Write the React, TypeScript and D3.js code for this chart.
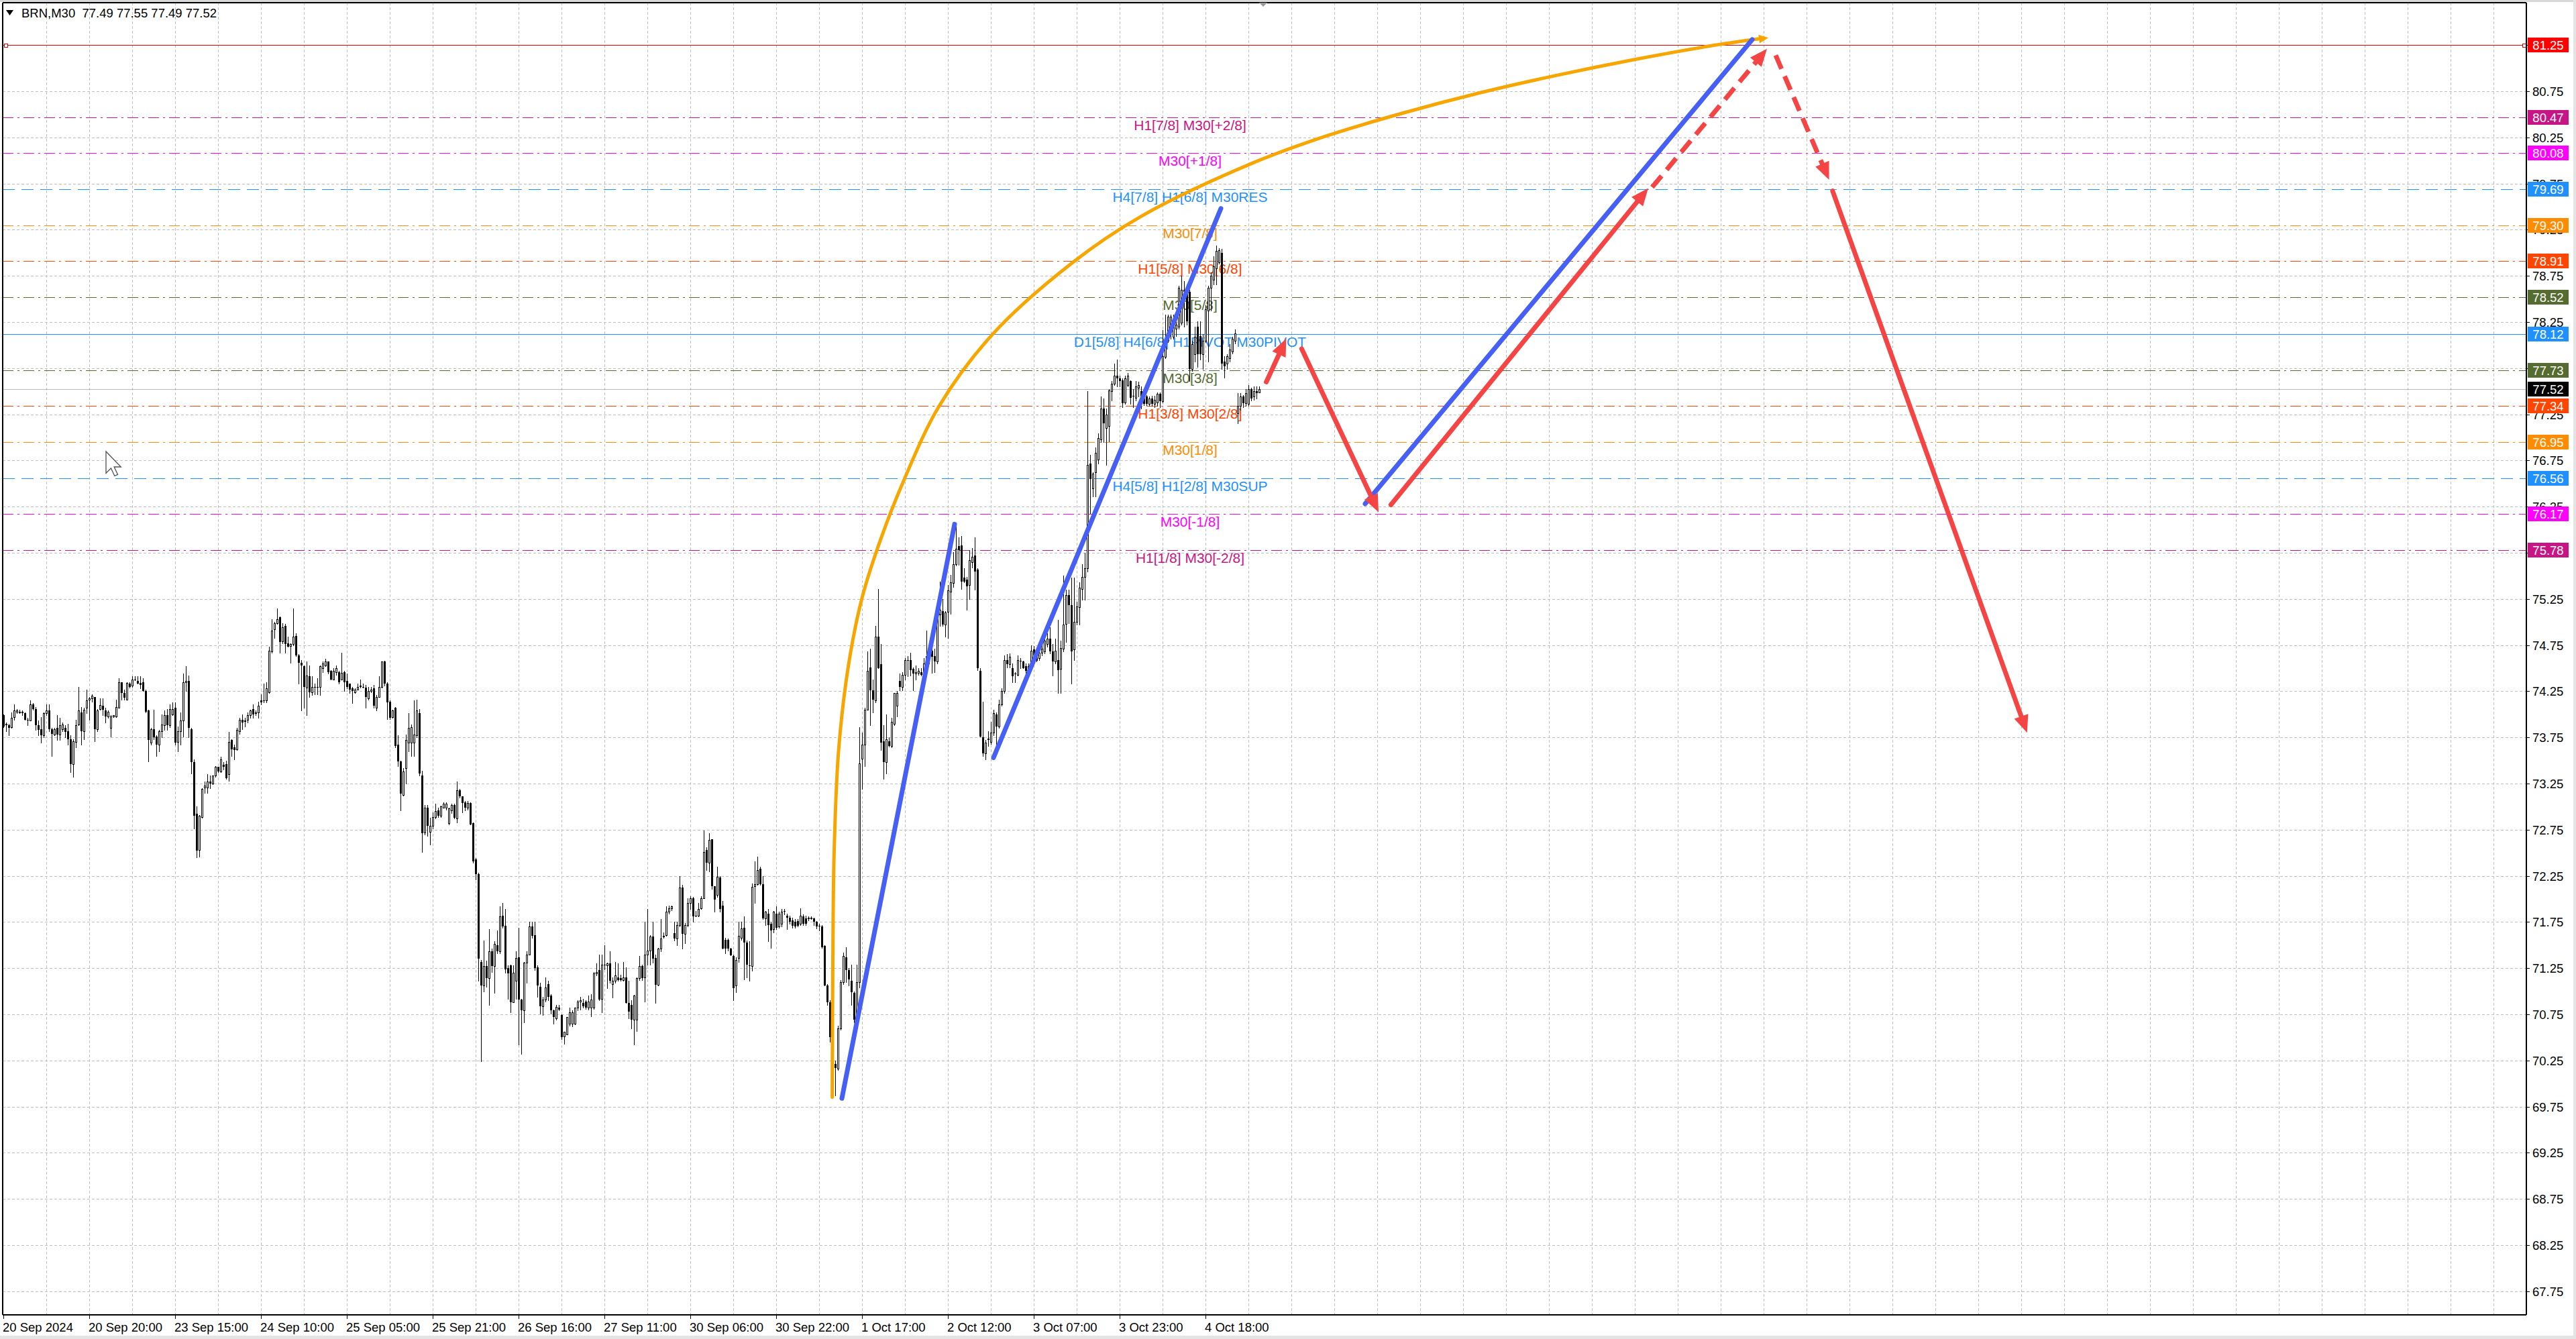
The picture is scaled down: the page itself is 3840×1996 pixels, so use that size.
import React from "react"
import * as d3 from "d3"

// BRN M30 candles, one array per trading session: [open, high, low, close]
type Bar = [number, number, number, number]

const sep20: Bar[] = [
  [73.99, 74.0, 73.86, 73.87], [73.89, 73.91, 73.82, 73.9], [73.88, 73.9, 73.77, 73.85], [73.86, 74.02, 73.85, 73.96],
  [73.97, 74.11, 73.94, 74.04], [74.03, 74.06, 74.01, 74.04], [74.03, 74.05, 74.01, 74.01], [74.03, 74.04, 73.99, 74.01],
  [74.01, 74.02, 73.94, 73.94], [73.94, 73.96, 73.88, 73.93], [73.93, 74.15, 73.93, 74.11], [74.11, 74.12, 74.05, 74.06],
  [74.06, 74.08, 73.83, 73.88], [73.88, 73.93, 73.77, 73.83], [73.84, 73.97, 73.69, 73.77], [73.77, 74.02, 73.75, 74.01],
  [74.01, 74.11, 73.99, 74.04], [74.04, 74.11, 73.82, 73.84], [73.84, 73.85, 73.55, 73.79], [73.78, 73.85, 73.77, 73.84],
  [73.85, 73.99, 73.72, 73.78], [73.78, 73.96, 73.72, 73.88], [73.84, 73.91, 73.82, 73.89], [73.85, 73.88, 73.75, 73.81],
  [73.82, 73.9, 73.67, 73.73], [73.73, 73.77, 73.37, 73.46], [73.46, 73.73, 73.32, 73.71], [73.7, 73.94, 73.64, 73.88],
  [73.89, 74.3, 73.88, 74.04], [74.02, 74.08, 73.67, 73.82], [73.82, 74.07, 73.73, 74.05], [74.07, 74.27, 74.01, 74.15],
  [74.16, 74.19, 73.94, 74.17], [74.17, 74.22, 74.14, 74.2], [74.19, 74.19, 73.71, 73.84], [73.84, 74.06, 73.82, 74.04],
  [74.06, 74.17, 74.05, 74.1], [74.09, 74.17, 73.99, 74.05],
]
const sep23: Bar[] = [
  [74.04, 74.07, 73.91, 73.98], [73.98, 74.04, 73.96, 74.03], [73.85, 73.99, 73.76, 73.98], [73.98, 73.99, 73.97, 73.99],
  [73.98, 74.16, 73.97, 74.08], [74.07, 74.39, 74.07, 74.35], [74.35, 74.35, 74.16, 74.23], [74.23, 74.27, 74.16, 74.18],
  [74.16, 74.35, 74.16, 74.34], [74.33, 74.35, 74.29, 74.3], [74.31, 74.41, 74.3, 74.38], [74.38, 74.41, 74.37, 74.38],
  [74.36, 74.41, 74.33, 74.33], [74.34, 74.41, 74.28, 74.32], [74.35, 74.39, 74.25, 74.25], [74.25, 74.27, 74.02, 74.03],
  [74.04, 74.05, 73.49, 73.72], [73.69, 73.85, 73.67, 73.84], [73.84, 74.05, 73.73, 73.75], [73.76, 73.77, 73.55, 73.67],
  [73.67, 73.83, 73.6, 73.82], [73.82, 74.0, 73.75, 73.89], [73.88, 74.04, 73.83, 73.99], [73.99, 74.06, 73.83, 73.88],
  [73.88, 74.11, 73.86, 74.06], [74.0, 74.13, 73.99, 74.06], [74.07, 74.13, 73.67, 73.69], [73.7, 73.87, 73.6, 73.82],
  [73.82, 74.02, 73.67, 73.93], [73.93, 74.44, 73.76, 74.35], [74.35, 74.52, 74.25, 74.36], [74.36, 74.42, 73.75, 73.85],
  [73.84, 73.85, 73.36, 73.48], [73.48, 73.51, 72.76, 72.9], [72.92, 73.0, 72.45, 72.52], [72.53, 72.91, 72.46, 72.9],
  [72.89, 73.2, 72.88, 73.19], [73.21, 73.27, 73.15, 73.23], [73.21, 73.35, 73.15, 73.27], [73.27, 73.34, 73.2, 73.25],
  [73.25, 73.34, 73.24, 73.34], [73.34, 73.44, 73.32, 73.43],
]
const sep24: Bar[] = [
  [73.43, 73.43, 73.37, 73.38], [73.38, 73.54, 73.37, 73.51], [73.45, 73.48, 73.4, 73.43], [73.46, 73.5, 73.3, 73.31],
  [73.35, 73.81, 73.28, 73.7], [73.72, 73.73, 73.55, 73.62], [73.64, 73.67, 73.51, 73.61], [73.62, 73.85, 73.61, 73.83],
  [73.82, 73.96, 73.79, 73.94], [73.94, 74.0, 73.84, 73.91], [73.93, 73.96, 73.87, 73.92], [73.94, 74.02, 73.91, 73.99],
  [73.99, 74.05, 73.96, 74.04], [74.06, 74.11, 73.96, 74.0], [74.01, 74.04, 73.99, 74.02], [74.02, 74.14, 73.96, 74.09],
  [74.15, 74.22, 74.11, 74.13], [74.15, 74.33, 74.13, 74.15], [74.15, 74.35, 74.13, 74.28], [74.24, 74.73, 74.23, 74.69],
  [74.68, 75.03, 74.67, 74.91], [74.92, 75.0, 74.83, 74.99], [74.99, 75.15, 74.98, 75.03], [75.05, 75.06, 74.67, 74.78],
  [74.79, 74.99, 74.77, 74.94], [74.96, 74.98, 74.67, 74.76], [74.77, 74.84, 74.73, 74.73], [74.74, 74.77, 74.56, 74.76],
  [74.76, 75.15, 74.75, 74.84], [74.85, 74.88, 74.63, 74.64], [74.64, 74.65, 74.33, 74.56], [74.56, 74.59, 74.04, 74.53],
  [74.52, 74.53, 74.07, 74.3], [74.29, 74.57, 73.99, 74.42], [74.41, 74.53, 74.19, 74.24], [74.24, 74.41, 74.21, 74.3],
  [74.3, 74.33, 74.22, 74.3], [74.3, 74.39, 74.22, 74.3], [74.3, 74.53, 74.21, 74.52], [74.5, 74.57, 74.46, 74.55],
  [74.53, 74.6, 74.52, 74.57], [74.57, 74.57, 74.44, 74.46],
]
const sep25: Bar[] = [
  [74.47, 74.48, 74.38, 74.38], [74.38, 74.5, 74.38, 74.47], [74.46, 74.53, 74.43, 74.5], [74.46, 74.47, 74.33, 74.35],
  [74.38, 74.67, 74.38, 74.45], [74.46, 74.47, 74.25, 74.35], [74.36, 74.44, 74.28, 74.3], [74.33, 74.33, 74.23, 74.27],
  [74.28, 74.3, 74.12, 74.25], [74.24, 74.28, 74.23, 74.27], [74.27, 74.33, 74.27, 74.3], [74.31, 74.38, 74.29, 74.3],
  [74.3, 74.33, 74.29, 74.29], [74.29, 74.32, 74.07, 74.19], [74.17, 74.3, 74.16, 74.25], [74.25, 74.3, 74.24, 74.27],
  [74.28, 74.32, 74.07, 74.09], [74.07, 74.21, 74.04, 74.19], [74.19, 74.41, 74.19, 74.3], [74.3, 74.57, 74.29, 74.57],
  [74.57, 74.58, 74.31, 74.33], [74.33, 74.35, 73.95, 74.13], [74.14, 74.15, 73.95, 73.96], [73.97, 74.05, 73.96, 74.04],
  [74.07, 74.08, 73.64, 73.66], [73.67, 73.77, 73.44, 73.49], [73.49, 73.5, 72.96, 73.14], [73.13, 73.42, 73.12, 73.38],
  [73.42, 73.78, 73.25, 73.72], [73.69, 74.01, 73.6, 73.85], [73.69, 73.89, 73.55, 73.86], [73.69, 74.15, 73.55, 73.78],
  [73.77, 74.16, 73.75, 74.04], [74.01, 74.06, 73.34, 73.36], [73.34, 73.39, 72.51, 72.71], [72.72, 73.02, 72.7, 72.99],
  [72.99, 73.02, 72.68, 72.79], [72.73, 72.88, 72.59, 72.79], [72.79, 72.94, 72.76, 72.89], [72.89, 73.03, 72.87, 72.95],
  [72.96, 72.99, 72.89, 72.9], [72.9, 73.01, 72.89, 73.0],
]
const sep26: Bar[] = [
  [72.99, 73.05, 72.99, 73.03], [72.99, 73.05, 72.97, 73.03], [72.82, 72.99, 72.81, 72.98], [72.96, 73.03, 72.93, 73.02],
  [73.02, 73.03, 72.87, 72.88], [72.87, 73.27, 72.83, 73.18], [73.18, 73.19, 73.1, 73.11], [73.11, 73.11, 72.94, 73.04],
  [73.05, 73.06, 72.96, 72.99], [72.99, 73.06, 72.97, 73.04], [73.04, 73.05, 72.81, 72.81], [72.82, 72.83, 72.39, 72.41],
  [72.43, 72.44, 72.21, 72.27], [72.27, 72.28, 71.11, 71.35], [71.32, 71.34, 70.24, 71.06], [71.06, 71.55, 71.0, 71.27],
  [71.27, 71.33, 71.05, 71.14], [71.14, 71.67, 70.85, 71.43], [71.43, 71.46, 71.21, 71.27], [71.27, 71.54, 70.98, 71.51],
  [71.5, 71.66, 71.41, 71.43], [71.43, 71.92, 71.41, 71.81], [71.82, 71.96, 71.69, 71.7], [71.71, 71.89, 71.2, 71.24],
  [71.25, 71.28, 70.92, 71.19], [71.28, 71.29, 70.77, 70.88], [70.88, 71.28, 70.88, 71.2], [71.11, 71.43, 70.92, 71.36],
  [71.37, 71.69, 70.42, 70.91], [70.91, 70.92, 70.32, 70.79], [70.79, 71.32, 70.66, 71.31], [71.31, 71.43, 71.09, 71.4],
  [71.4, 71.75, 71.4, 71.7], [71.7, 71.75, 71.58, 71.6], [71.61, 71.75, 71.23, 71.25], [71.26, 71.28, 70.94, 71.06],
  [71.05, 71.09, 70.76, 70.84], [70.84, 70.94, 70.74, 70.91], [70.91, 71.15, 70.89, 71.04], [71.08, 71.11, 70.9, 70.94],
  [70.95, 70.97, 70.76, 70.79], [70.79, 70.8, 70.65, 70.72],
]
const sep27: Bar[] = [
  [70.71, 70.85, 70.69, 70.83], [70.82, 70.85, 70.79, 70.8], [70.74, 70.75, 70.48, 70.5], [70.51, 70.56, 70.43, 70.56],
  [70.53, 70.72, 70.53, 70.72], [70.65, 70.82, 70.63, 70.77], [70.65, 70.79, 70.62, 70.77], [70.65, 70.82, 70.64, 70.82],
  [70.82, 70.9, 70.79, 70.89], [70.89, 70.94, 70.8, 70.9], [70.87, 70.92, 70.82, 70.84], [70.89, 70.9, 70.81, 70.82],
  [70.82, 70.95, 70.8, 70.89], [70.82, 70.97, 70.73, 70.91], [70.82, 71.21, 70.81, 71.19], [71.19, 71.3, 71.17, 71.21],
  [71.23, 71.4, 70.9, 70.91], [70.92, 71.4, 70.77, 71.29], [71.29, 71.5, 71.24, 71.29], [71.28, 71.31, 71.03, 71.3],
  [71.3, 71.43, 71.09, 71.11], [71.08, 71.15, 70.93, 71.11], [71.11, 71.32, 71.09, 71.17], [71.15, 71.3, 71.11, 71.12],
  [71.14, 71.18, 71.11, 71.12], [71.12, 71.32, 71.11, 71.15], [71.15, 71.26, 70.87, 70.87], [70.87, 71.11, 70.71, 70.78],
  [70.85, 70.9, 70.6, 70.69], [70.69, 70.96, 70.42, 70.95], [70.69, 71.15, 70.57, 71.14], [71.14, 71.38, 71.12, 71.27],
  [71.27, 71.29, 71.12, 71.14], [71.15, 71.75, 70.89, 71.4], [71.4, 71.89, 71.29, 71.44], [71.44, 71.61, 71.29, 71.59],
  [71.59, 71.75, 71.31, 71.35], [71.36, 71.4, 70.87, 71.07], [71.07, 71.47, 71.06, 71.46], [71.46, 71.78, 71.43, 71.57],
  [71.59, 71.64, 71.58, 71.6], [71.61, 71.92, 71.6, 71.86],
]
const sep30: Bar[] = [
  [71.86, 71.93, 71.84, 71.9], [71.9, 71.93, 71.88, 71.92], [71.63, 71.75, 71.55, 71.57], [71.57, 71.75, 71.5, 71.72],
  [71.72, 72.25, 71.7, 72.12], [72.12, 72.15, 71.46, 71.62], [71.62, 71.74, 71.52, 71.72], [71.72, 72.01, 71.7, 71.96],
  [71.96, 72.03, 71.89, 72.01], [72.01, 72.02, 71.75, 71.81], [71.82, 71.87, 71.81, 71.82], [71.82, 71.96, 71.81, 71.89],
  [71.9, 72.03, 71.89, 72.01], [72.01, 72.74, 72.01, 72.51], [72.53, 72.56, 72.31, 72.39], [72.39, 72.71, 72.3, 72.64],
  [72.65, 72.65, 72.11, 72.14], [72.14, 72.14, 71.86, 71.99], [72.04, 72.35, 72.02, 72.24], [72.23, 72.25, 71.86, 71.89],
  [71.93, 71.98, 71.46, 71.46], [71.56, 71.58, 71.41, 71.46], [71.56, 71.57, 71.44, 71.46], [71.46, 71.47, 71.39, 71.39],
  [71.38, 71.4, 70.9, 71.03], [71.06, 71.37, 70.99, 71.34], [71.36, 71.75, 71.32, 71.6], [71.58, 71.75, 71.56, 71.68],
  [71.69, 71.81, 71.13, 71.53], [71.53, 71.55, 71.15, 71.29], [71.28, 71.54, 71.11, 71.28], [71.27, 72.17, 71.22, 72.13],
  [72.14, 72.41, 71.96, 72.16], [72.16, 72.46, 72.15, 72.31], [72.33, 72.35, 72.15, 72.16], [72.16, 72.25, 71.78, 71.79],
  [71.79, 71.87, 71.72, 71.86], [71.84, 71.89, 71.54, 71.72], [71.73, 71.75, 71.47, 71.66], [71.67, 71.87, 71.64, 71.86],
  [71.84, 71.92, 71.67, 71.69], [71.7, 71.86, 71.69, 71.84],
]
const oct1: Bar[] = [
  [71.73, 71.89, 71.7, 71.86], [71.87, 71.89, 71.83, 71.86], [71.82, 71.84, 71.67, 71.8], [71.8, 71.82, 71.73, 71.75],
  [71.77, 71.8, 71.69, 71.71], [71.75, 71.78, 71.69, 71.7], [71.76, 71.78, 71.7, 71.71], [71.73, 71.9, 71.72, 71.82],
  [71.81, 71.83, 71.72, 71.73], [71.79, 71.82, 71.72, 71.73], [71.8, 71.81, 71.77, 71.78], [71.79, 71.81, 71.78, 71.8],
  [71.79, 71.8, 71.72, 71.75], [71.75, 71.76, 71.68, 71.7], [71.71, 71.73, 71.66, 71.7], [71.7, 71.72, 71.47, 71.48],
  [71.49, 71.5, 71.06, 71.06], [71.06, 71.08, 70.85, 70.88], [70.88, 70.9, 70.45, 70.5], [70.5, 70.56, 69.85, 70.21],
  [70.21, 70.25, 69.87, 70.17], [70.16, 70.63, 70.15, 70.6], [70.6, 71.12, 70.58, 71.1], [71.1, 71.42, 71.08, 71.38],
  [71.37, 71.48, 71.1, 71.23], [71.23, 71.25, 71.06, 71.13], [71.11, 71.29, 70.85, 70.99], [70.98, 71.0, 70.66, 70.69],
  [70.69, 71.29, 70.69, 71.1], [71.1, 73.86, 71.04, 73.47], [73.52, 73.8, 73.19, 73.67], [73.67, 74.07, 73.44, 74.05],
  [74.05, 74.68, 74.05, 74.47], [74.51, 74.71, 73.88, 74.26], [74.26, 74.38, 74.02, 74.16], [74.15, 74.96, 74.13, 74.84],
  [74.84, 75.36, 74.5, 74.5], [74.54, 74.76, 73.61, 73.69], [73.71, 73.88, 73.3, 73.48], [73.48, 74.0, 73.36, 73.73],
  [73.71, 73.75, 73.65, 73.66], [73.66, 73.96, 73.64, 73.92],
]
const oct2: Bar[] = [
  [73.9, 74.23, 73.88, 74.23], [74.09, 74.25, 73.98, 74.23], [74.36, 74.44, 74.26, 74.3], [74.3, 74.46, 74.26, 74.43],
  [74.43, 74.61, 74.38, 74.59], [74.59, 74.63, 74.41, 74.59], [74.59, 74.67, 74.42, 74.48], [74.49, 74.51, 74.26, 74.44],
  [74.44, 74.53, 74.38, 74.46], [74.45, 74.5, 74.43, 74.47], [74.46, 74.5, 74.42, 74.43], [74.44, 74.61, 74.42, 74.55],
  [74.55, 74.91, 74.5, 74.63], [74.63, 74.74, 74.55, 74.68], [74.69, 74.74, 74.45, 74.62], [74.63, 74.71, 74.46, 74.57],
  [74.57, 75.13, 74.55, 75.08], [75.08, 75.44, 74.96, 75.13], [75.12, 75.25, 74.96, 74.97], [74.97, 75.12, 74.84, 75.1],
  [75.11, 75.4, 74.83, 75.34], [75.33, 75.51, 75.09, 75.43], [75.42, 75.76, 75.38, 75.63], [75.63, 76.04, 75.61, 75.79],
  [75.82, 75.92, 75.62, 75.78], [75.83, 75.93, 75.36, 75.44], [75.48, 75.58, 75.43, 75.44], [75.46, 75.49, 75.13, 75.39],
  [75.4, 75.78, 75.25, 75.67], [75.65, 75.8, 75.59, 75.71], [75.72, 75.92, 75.35, 75.55], [75.57, 75.58, 74.48, 74.5],
  [74.47, 74.5, 73.76, 73.76], [73.75, 74.14, 73.55, 73.58], [73.58, 73.72, 73.51, 73.69], [73.74, 73.82, 73.66, 73.72],
  [73.7, 73.92, 73.68, 73.8], [73.8, 74.05, 73.77, 74.01], [74.0, 74.02, 73.65, 73.87], [73.87, 74.16, 73.85, 74.11],
  [74.11, 74.28, 74.09, 74.25], [74.25, 74.64, 74.23, 74.59],
]
const oct3: Bar[] = [
  [74.59, 74.65, 74.51, 74.54], [74.54, 74.66, 74.51, 74.62], [74.5, 74.55, 74.35, 74.41], [74.44, 74.46, 74.35, 74.44],
  [74.43, 74.64, 74.42, 74.59], [74.58, 74.61, 74.5, 74.58], [74.57, 74.58, 74.5, 74.5], [74.52, 74.55, 74.44, 74.47],
  [74.47, 74.55, 74.44, 74.52], [74.52, 74.75, 74.5, 74.69], [74.7, 74.74, 74.61, 74.64], [74.64, 74.69, 74.57, 74.58],
  [74.61, 74.7, 74.59, 74.67], [74.67, 74.75, 74.64, 74.71], [74.68, 74.87, 74.66, 74.8], [74.76, 74.88, 74.73, 74.82],
  [74.82, 74.94, 74.66, 74.68], [74.68, 74.76, 74.42, 74.57], [74.57, 74.82, 74.55, 74.69], [74.59, 75.02, 74.23, 74.48],
  [74.49, 74.8, 74.23, 74.72], [74.71, 75.5, 74.68, 74.97], [74.98, 75.35, 74.78, 75.29], [75.29, 75.35, 74.99, 75.18],
  [75.18, 75.48, 74.33, 74.68], [74.7, 75.48, 74.59, 75.0], [75.0, 75.22, 74.97, 75.17], [75.16, 75.43, 74.97, 75.37],
  [75.36, 75.63, 75.24, 75.49], [75.49, 75.75, 75.24, 75.58], [75.58, 77.5, 75.55, 76.7], [76.72, 76.81, 76.18, 76.55],
  [76.45, 76.62, 76.36, 76.61], [76.62, 76.89, 76.36, 76.83], [76.76, 77.04, 76.72, 76.99], [76.98, 77.44, 76.95, 77.31],
  [77.31, 77.42, 76.95, 77.15], [77.1, 77.31, 76.7, 77.25], [77.12, 77.52, 76.96, 77.51], [77.5, 77.61, 77.4, 77.58],
  [77.58, 77.8, 77.57, 77.67], [77.67, 77.84, 77.55, 77.64],
]
const oct4: Bar[] = [
  [77.64, 77.67, 77.55, 77.61], [77.62, 77.64, 77.33, 77.37], [77.38, 77.67, 77.36, 77.64], [77.57, 77.7, 77.55, 77.67],
  [77.61, 77.62, 77.36, 77.43], [77.45, 77.52, 77.33, 77.44], [77.43, 77.61, 77.4, 77.55], [77.54, 77.6, 77.44, 77.57],
  [77.5, 77.55, 77.31, 77.39], [77.42, 77.46, 77.35, 77.36], [77.44, 77.46, 77.35, 77.36], [77.36, 77.44, 77.34, 77.42],
  [77.42, 77.45, 77.34, 77.36], [77.36, 77.45, 77.33, 77.41], [77.38, 77.49, 77.34, 77.47], [77.47, 77.49, 77.33, 77.39],
  [77.39, 78.16, 77.38, 77.88], [77.87, 78.33, 77.86, 78.06], [78.05, 78.33, 78.03, 78.31], [78.16, 78.33, 78.07, 78.31],
  [78.09, 78.33, 78.07, 78.28], [78.18, 78.31, 78.1, 78.22], [78.2, 78.64, 78.18, 78.62], [78.24, 78.75, 78.22, 78.6],
  [78.6, 78.69, 78.2, 78.58], [78.56, 78.66, 78.22, 78.26], [78.58, 78.6, 77.61, 77.74], [77.74, 78.05, 77.72, 78.01],
  [77.9, 78.2, 77.82, 78.09], [78.2, 78.26, 77.76, 77.9], [78.1, 78.26, 77.84, 77.9], [77.9, 78.12, 77.74, 78.05],
  [78.05, 78.43, 78.03, 78.39], [78.37, 78.64, 77.82, 78.62], [78.62, 78.79, 78.37, 78.75], [78.71, 78.96, 78.66, 78.85],
  [78.83, 79.08, 78.66, 79.02], [78.9, 79.05, 78.88, 79.03], [79.0, 79.04, 77.74, 77.8], [77.82, 77.88, 77.65, 77.77],
  [77.8, 77.9, 77.74, 77.88], [77.86, 78.01, 77.82, 77.95], [77.93, 78.09, 77.91, 78.07], [78.05, 78.17, 78.02, 78.13],
]
const oct7: Bar[] = [
  [77.26, 77.48, 77.15, 77.34], [77.34, 77.48, 77.3, 77.44], [77.44, 77.46, 77.33, 77.37], [77.37, 77.52, 77.34, 77.48],
  [77.36, 77.57, 77.34, 77.52], [77.52, 77.54, 77.4, 77.42], [77.44, 77.55, 77.41, 77.5], [77.5, 77.55, 77.42, 77.48],
  [77.49, 77.55, 77.49, 77.52],
]

const symbol = "BRN,M30"
const lastPrice = 77.52
const topLinePrice = 81.25

// time axis: one label every 32 bars
const timeLabels = [
  "20 Sep 2024", "20 Sep 20:00", "23 Sep 15:00", "24 Sep 10:00", "25 Sep 05:00", "25 Sep 21:00", "26 Sep 16:00",
  "27 Sep 11:00", "30 Sep 06:00", "30 Sep 22:00", "1 Oct 17:00", "2 Oct 12:00", "3 Oct 07:00", "3 Oct 23:00", "4 Oct 18:00",
]

// Murrey math levels
const levelPrices = [80.47, 80.08, 79.69, 79.3, 78.91, 78.52, 78.12, 77.73, 77.34, 76.95, 76.56, 76.17, 75.78]
const levelTexts = [
  "H1[7/8] M30[+2/8]", "M30[+1/8]", "H4[7/8] H1[6/8] M30RES", "M30[7/8]", "H1[5/8] M30[6/8]", "M30[5/8]",
  "D1[5/8] H4[6/8] H1PIVOT M30PIVOT", "M30[3/8]", "H1[3/8] M30[2/8]", "M30[1/8]", "H4[5/8] H1[2/8] M30SUP",
  "M30[-1/8]", "H1[1/8] M30[-2/8]",
]
const levelKinds = ["x2", "x1", "res", "o", "r", "g", "pivot", "g", "r", "o", "sup", "x1", "x2"]
const levelTextBar = 442.25

// drawn objects, in [bar, price]
const blueLines = [
  [[312.5, 69.84], [354.5, 76.06]],
  [[369, 73.53], [453.75, 79.48]],
  [[507.5, 76.28], [651.75, 81.31]],
]
const redArrows = [
  [[470.65, 77.6], [478.1, 78.07]],
  [[483.85, 77.96], [512.5, 76.19]],
  [[517.1, 76.27], [613, 79.7]],
  [[614.45, 79.71], [657.25, 81.21]],
  [[660.5, 81.14], [680.4, 79.79]],
  [[681.7, 79.67], [754.2, 73.8]],
]
const redDashed = [false, false, false, true, true, false]
const arcPoints = [
  [308.9, 69.85], [309.1, 71.2], [309.6, 72.5], [311.3, 73.62], [315, 74.54], [320, 75.26], [327, 75.9],
  [335.8, 76.55], [348.75, 77.34], [368.75, 78.12], [398.75, 78.9], [423.75, 79.39], [463.75, 79.95],
  [492.45, 80.26], [521.15, 80.51], [549.85, 80.73], [578.5, 80.92], [607.25, 81.09], [636, 81.24], [655, 81.32],
]
const arcTip = [657.75, 81.33]

const kindStyle: Record<string, { color: string; dash: string }> = {
  x2: { color: "#c71585", dash: "16,6,3,6" },
  x1: { color: "#ff00ff", dash: "16,6,3,6" },
  res: { color: "#1e90ff", dash: "18,10" },
  sup: { color: "#1e90ff", dash: "18,10" },
  o: { color: "#ff8c00", dash: "16,6,3,6" },
  r: { color: "#ff4500", dash: "16,6,3,6" },
  g: { color: "#556b2f", dash: "16,6,3,6" },
  pivot: { color: "#1e90ff", dash: "none" },
}

const FONT = "'Liberation Sans', Arial, sans-serif"

function head(x1: number, y1: number, x2: number, y2: number, len: number, half: number) {
  const d = Math.hypot(x2 - x1, y2 - y1)
  const ux = (x2 - x1) / d
  const uy = (y2 - y1) / d
  const bx = x2 - ux * len
  const by = y2 - uy * len
  return `${x2},${y2} ${bx - uy * half},${by + ux * half} ${bx + uy * half},${by - ux * half}`
}

export default function App() {
  const width = 3840
  const height = 1996
  const left = 4, top = 4, right = 3766, bottom = 1960

  const bars = [...sep20, ...sep23, ...sep24, ...sep25, ...sep26, ...sep27, ...sep30, ...oct1, ...oct2, ...oct3, ...oct4, ...oct7]

  const x = d3.scaleLinear().domain([0, 468]).range([5, 1877])
  const y = d3.scaleLinear().domain([67.75, 81.25]).range([1924.8, 67.2])

  const yTicks = d3.range(67.75, 81.26, 0.5)
  const xGrid = d3.range(16, 1000, 16).filter((b) => x(b) < right - 10)
  const fmt = d3.format(".2f")

  const arcLine = d3
    .line<number[]>()
    .x((d) => x(d[0]))
    .y((d) => y(d[1]))
    .curve(d3.curveCatmullRom.alpha(0.5))

  const last = arcPoints[arcPoints.length - 2]
  const orangeHead = head(x(last[0]), y(last[1]), x(arcTip[0]), y(arcTip[1]), 14, 6.5)

  const boxes = [
    { p: topLinePrice, c: "#ff0000" },
    ...levelPrices.map((p, i) => ({ p, c: kindStyle[levelKinds[i]].color })),
    { p: lastPrice, c: "#000000" },
  ]

  return (
    <svg
      width={width}
      height={height}
      style={{ position: "absolute", left: 0, top: 0, background: "#fff" }}
      fontFamily={FONT}
    >
      <rect x={0} y={0} width={width} height={height} fill="#fff" />
      <rect x={0} y={0} width={width} height={3} fill="#d8d8d8" />
      <rect x={0} y={1991} width={width} height={5} fill="#e4e4e4" />
      <rect x={3836} y={0} width={4} height={height} fill="#e4e4e4" />

      {/* grid */}
      <g stroke="#c0c0c0" strokeWidth={1} strokeDasharray="4,3" shapeRendering="crispEdges">
        {yTicks.map((p) => (
          <line key={"h" + p} x1={left} x2={right} y1={Math.round(y(p)) + 0.5} y2={Math.round(y(p)) + 0.5} />
        ))}
        {xGrid.map((b) => (
          <line key={"v" + b} x1={Math.round(x(b)) + 0.5} x2={Math.round(x(b)) + 0.5} y1={top} y2={bottom} />
        ))}
      </g>

      {/* levels */}
      <g shapeRendering="crispEdges">
        {levelPrices.map((p, i) => {
          const s = kindStyle[levelKinds[i]]
          const yy = Math.round(y(p)) + 0.5
          return (
            <line key={p} x1={left} x2={right} y1={yy} y2={yy} stroke={s.color} strokeWidth={1}
              strokeDasharray={s.dash === "none" ? undefined : s.dash} />
          )
        })}
        <line x1={left} x2={right} y1={Math.round(y(lastPrice)) + 0.5} y2={Math.round(y(lastPrice)) + 0.5}
          stroke="#b8b8b8" strokeWidth={1} />
        <line x1={left} x2={right} y1={Math.round(y(topLinePrice)) + 0.5} y2={Math.round(y(topLinePrice)) + 0.5}
          stroke="#e00000" strokeWidth={1.2} />
        <rect x={left + 2} y={Math.round(y(topLinePrice)) - 2} width={5} height={5} fill="#fff" stroke="#e00000" strokeWidth={1} />
        <rect x={right - 6} y={Math.round(y(topLinePrice)) - 2} width={5} height={5} fill="#fff" stroke="#e00000" strokeWidth={1} />
      </g>

      {/* level captions */}
      <g fontSize={21} textAnchor="middle">
        {levelPrices.map((p, i) => (
          <text key={"t" + p} x={x(levelTextBar)} y={y(p) + 19} fill={kindStyle[levelKinds[i]].color}>
            {levelTexts[i]}
          </text>
        ))}
      </g>

      {/* candles */}
      <g shapeRendering="crispEdges">
        {bars.map(([o, h, l, c], i) => {
          const cx = Math.round(x(i))
          const yt = Math.round(y(Math.max(o, c)))
          const yb = Math.round(y(Math.min(o, c)))
          const bh = Math.max(1, yb - yt)
          const up = c > o
          const yh = Math.round(y(h))
          const yl = Math.round(y(l))
          return (
            <g key={i}>
              <rect x={cx} y={yh} width={1} height={Math.max(1, yl - yh + 1)} fill="#000" />
              <rect x={cx - 1} y={yt} width={3} height={up ? bh + 1 : bh} fill="#000" />
              {up && bh > 1 && <rect x={cx} y={yt + 1} width={1} height={bh - 1} fill="#fff" />}
            </g>
          )
        })}
      </g>

      {/* orange arc */}
      <path d={arcLine(arcPoints) ?? ""} fill="none" stroke="#f7a600" strokeWidth={5} strokeLinecap="round" />
      <polygon points={orangeHead} fill="#f7a600" />

      {/* blue lines */}
      {blueLines.map((ln, i) => (
        <line key={"b" + i} x1={x(ln[0][0])} y1={y(ln[0][1])} x2={x(ln[1][0])} y2={y(ln[1][1])}
          stroke="#465ff5" strokeWidth={7} strokeLinecap="round" />
      ))}

      {/* red arrows */}
      {redArrows.map((ar, i) => {
        const x1 = x(ar[0][0]), y1 = y(ar[0][1]), x2 = x(ar[1][0]), y2 = y(ar[1][1])
        const d = Math.hypot(x2 - x1, y2 - y1)
        const ex = x2 - ((x2 - x1) / d) * 16
        const ey = y2 - ((y2 - y1) / d) * 16
        return (
          <g key={"r" + i}>
            <line x1={x1} y1={y1} x2={ex} y2={ey} stroke="#f54444" strokeWidth={7}
              strokeLinecap={redDashed[i] ? "butt" : "round"} strokeDasharray={redDashed[i] ? "22,12" : undefined} />
            <polygon points={head(x1, y1, x2, y2, 26, 11)} fill="#f54444" />
          </g>
        )
      })}

      {/* frame */}
      <g stroke="#000" strokeWidth={2} fill="none" shapeRendering="crispEdges">
        <line x1={left} x2={left} y1={top} y2={bottom} />
        <line x1={left} x2={right} y1={top} y2={top} />
        <line x1={right} x2={right} y1={top} y2={bottom} />
        <line x1={left} x2={right} y1={bottom} y2={bottom} />
      </g>
      <polygon points="1877,4 1889,4 1883,10" fill="#9a9a9a" />

      {/* price axis */}
      <g fontSize={18.5} fill="#000">
        {yTicks.map((p) => (
          <g key={"yt" + p}>
            <line x1={right} x2={right + 5} y1={Math.round(y(p)) + 0.5} y2={Math.round(y(p)) + 0.5} stroke="#000" strokeWidth={1} />
            <text x={3775} y={y(p) + 7}>{fmt(p)}</text>
          </g>
        ))}
      </g>
      <g fontSize={18.5} textAnchor="middle">
        {boxes.map((b, i) => (
          <g key={"bx" + i}>
            <rect x={3768} y={Math.round(y(b.p)) - 11} width={61} height={22} fill={b.c} />
            <text x={3798.5} y={y(b.p) + 7} fill="#fff">{fmt(b.p)}</text>
          </g>
        ))}
      </g>

      {/* time axis */}
      <g fontSize={18.5} fill="#000">
        {timeLabels.map((t, i) => (
          <g key={t}>
            <line x1={Math.round(x(i * 32)) + 0.5} x2={Math.round(x(i * 32)) + 0.5} y1={bottom} y2={bottom + 6} stroke="#000" strokeWidth={1} />
            <text x={x(i * 32) - 1} y={1985}>{t}</text>
          </g>
        ))}
      </g>

      {/* title */}
      <polygon points="9,15 20,15 14.5,23" fill="#000" />
      <text x={32} y={26} fontSize={18.5} fill="#000" xmlSpace="preserve">
        {`${symbol}  ${bars[bars.length - 1].map(fmt).join(" ")}`}
      </text>

      {/* mouse pointer */}
      <g transform="translate(158,673) scale(1.35)">
        <path d="M0,0 L0,24 L5.5,18.5 L9.5,27 L13,25.5 L9,17 L16.5,17 Z" fill="#fff" stroke="#555" strokeWidth={1} />
      </g>
    </svg>
  )
}
